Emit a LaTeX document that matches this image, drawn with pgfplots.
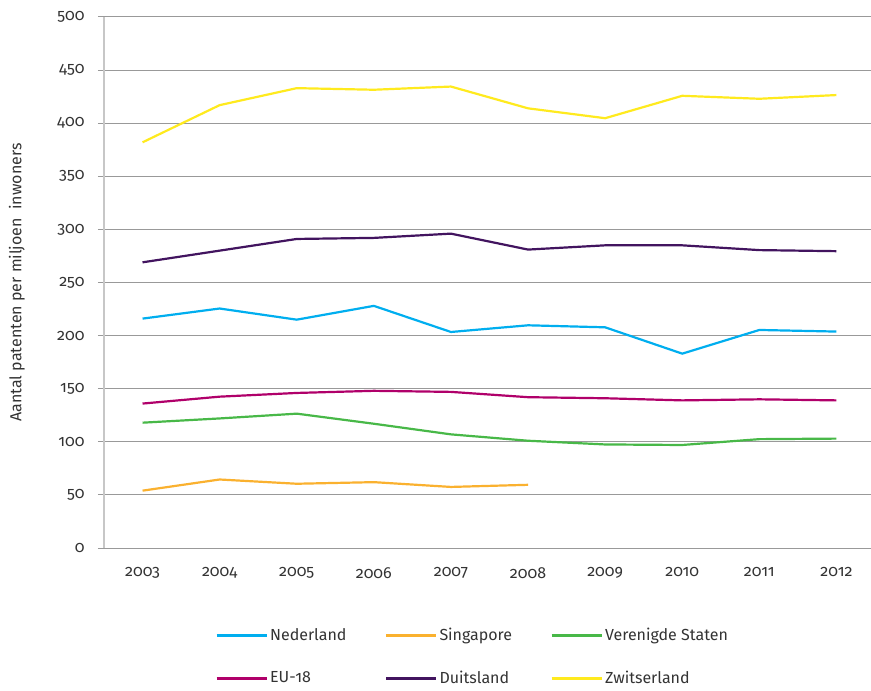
\documentclass[border=0pt]{standalone}
\usepackage{fontspec}
\setmainfont{Fira Sans}[Numbers=OldStyle]
\usepackage{pgfplots}
\pgfplotsset{compat=1.18}
\definecolor{ned}{HTML}{00AEEF}
\definecolor{sing}{HTML}{FAB12F}
\definecolor{vs}{HTML}{48B848}
\definecolor{eu}{HTML}{B0006A}
\definecolor{dui}{HTML}{42145F}
\definecolor{zwi}{HTML}{FFEA1E}
\definecolor{txt}{HTML}{333333}
\begin{document}
\begin{tikzpicture}
\begin{axis}[
  name=ax,
  scale only axis,
  width=771pt, height=531pt,
  xmin=-0.5, xmax=9.5,
  ymin=0, ymax=500,
  xtick={0,...,9},
  xticklabels={2003,2004,2005,2006,2007,2008,2009,2010,2011,2012},
  minor xtick={-0.5,0.5,...,9.5},
  ytick={0,50,...,500},
  ymajorgrids,
  grid style={draw=black!40, line width=1pt},
  axis y line*=left,
  axis x line*=bottom,
  y axis line style={draw=black!22, line width=2.5pt},
  x axis line style={draw=black!40, line width=1pt},
  tick align=outside,
  major tick length=6pt,
  minor tick length=6pt,
  xtick style={draw=none},
  minor tick style={draw=black!40, line width=1pt},
  ytick style={draw=black!40, line width=1pt},
  tick label style={font=\fontsize{16}{18}\selectfont, text=txt},
  /pgf/number format/assume math mode=true,
  yticklabel style={xshift=-10pt},
  xticklabel style={yshift=-10pt},
  ylabel={Aantal patenten per miljoen\ \ inwoners},
  every axis y label/.style={at={(axis description cs:-0.113,0.5)}, rotate=90, anchor=center,
     font=\fontsize{16}{18}\selectfont, text=txt},
  legend columns=3,
  legend style={
    at={(0.14,-0.143)}, anchor=north west,
    draw=none, fill=none,
    font=\fontsize{16}{18}\selectfont, text=txt,
    column sep=0pt, row sep=25pt,
    /tikz/every even column/.append style={column sep=36pt},
  },
  legend cell align=left,
  legend image code/.code={\draw[#1, line width=3pt] (0pt,0pt) -- (50pt,0pt);},
  every axis plot/.append style={line width=2.2pt},
  clip=false,
]
\addplot[ned] coordinates {(0,216) (1,225.5) (2,215) (3,228) (4,203.4) (5,209.7) (6,207.8) (7,183) (8,205.3) (9,203.8)};
\addlegendentry{Nederland}
\addplot[sing] coordinates {(0,54) (1,64.5) (2,60.5) (3,62) (4,57.5) (5,59.5)};
\addlegendentry{Singapore}
\addplot[vs] coordinates {(0,118) (1,122) (2,126.5) (3,117) (4,107) (5,101) (6,97.5) (7,97) (8,102.5) (9,103)};
\addlegendentry{Verenigde Staten}
\addplot[eu] coordinates {(0,136) (1,142.5) (2,146) (3,148) (4,147) (5,142) (6,141) (7,139) (8,140) (9,139)};
\addlegendentry{EU-18}
\addplot[dui] coordinates {(0,269) (1,280) (2,291) (3,292) (4,296) (5,281) (6,285) (7,285) (8,280.5) (9,279.5)};
\addlegendentry{Duitsland}
\addplot[zwi] coordinates {(0,382) (1,417) (2,433) (3,431.5) (4,434.5) (5,414) (6,404.7) (7,425.8) (8,423) (9,426.5)};
\addlegendentry{Zwitserland}
\end{axis}
\pgfresetboundingbox
\path[use as bounding box] ([xshift=-104pt,yshift=-143pt]ax.south west) rectangle ([xshift=767pt,yshift=17pt]ax.north west);
\end{tikzpicture}
\end{document}
